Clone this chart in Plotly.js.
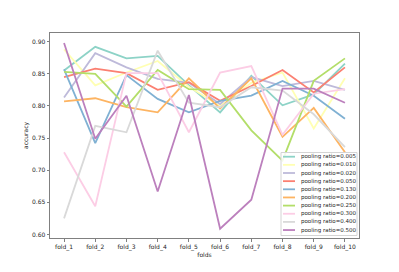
<!DOCTYPE html>
<html>
<head>
<meta charset="utf-8">
<script src="https://cdn.plot.ly/plotly-3.0.1.min.js"></script>
<style>html,body{margin:0;padding:0;background:#fff;}#chart{width:399px;height:272px;}</style>
</head>
<body>
<div id="chart"></div>
<script>
const folds = ["fold_1","fold_2","fold_3","fold_4","fold_5","fold_6","fold_7","fold_8","fold_9","fold_10"];
const seriesNames = ["pooling ratio=0.005","pooling ratio=0.010","pooling ratio=0.020","pooling ratio=0.050","pooling ratio=0.130","pooling ratio=0.200","pooling ratio=0.250","pooling ratio=0.300","pooling ratio=0.400","pooling ratio=0.500"];
const r0005 = [0.855,0.892,0.874,0.878,0.832,0.790,0.847,0.801,0.818,0.866];
const r0010 = [0.888,0.832,0.852,0.870,0.830,0.800,0.836,0.852,0.765,0.843];
const r0020 = [0.813,0.882,0.860,0.842,0.836,0.803,0.845,0.831,0.839,0.825];
const r0050 = [0.845,0.858,0.851,0.825,0.837,0.808,0.831,0.856,0.821,0.860];
const r0130 = [0.857,0.742,0.848,0.811,0.790,0.808,0.816,0.839,0.816,0.780];
const r0200 = [0.807,0.812,0.798,0.790,0.843,0.796,0.843,0.752,0.797,0.728];
const r0250 = [0.853,0.850,0.799,0.856,0.826,0.825,0.762,0.715,0.839,0.874];
const r0300 = [0.728,0.644,0.851,0.851,0.759,0.852,0.862,0.755,0.819,0.826];
const r0400 = [0.625,0.769,0.759,0.886,0.805,0.798,0.829,0.824,0.787,0.736];
const r0500 = [0.898,0.749,0.816,0.667,0.817,0.609,0.654,0.827,0.827,0.805];
const seriesValues = [r0005,r0010,r0020,r0050,r0130,r0200,r0250,r0300,r0400,r0500];
const colors = ["#8dd3c7","#ffffb3","#bebada","#fb8072","#80b1d3","#fdb462","#b3de69","#fccde5","#d9d9d9","#bc80bd"];

const traces = seriesValues.map((vals, i) => ({
  x: folds, y: vals, type: "scatter", mode: "lines",
  name: seriesNames[i], showlegend: false,
  line: {color: colors[i], width: 1.8}
}));

// plot area in pixels: left 50, right 359, top 33, bottom 238
const PL = 50, PR = 359, PT = 33, PB = 238;
const px = v => (v - PL) / (PR - PL);
const py = v => (PB - v) / (PB - PT);

const shapes = [{
  type: "rect", xref: "paper", yref: "paper", layer: "above",
  x0: px(281), x1: px(357), y0: py(235.5), y1: py(152.5),
  fillcolor: "rgba(255,255,255,0.85)", line: {color: "#d4d4d4", width: 1}
}];
const annotations = [];
seriesNames.forEach((nm, i) => {
  const yc = 156.7 + i * 8.15;
  shapes.push({
    type: "line", xref: "paper", yref: "paper", layer: "above",
    x0: px(283), x1: px(295), y0: py(yc), y1: py(yc),
    line: {color: colors[i], width: 1.8}
  });
  annotations.push({
    xref: "paper", yref: "paper", x: px(298.5), y: py(yc),
    xanchor: "left", yanchor: "middle", showarrow: false,
    text: nm, font: {family: "DejaVu Sans", size: 5.5, color: "#262626"}
  });
});

const layout = {
  width: 399, height: 272,
  margin: {l: 50, r: 40, t: 33, b: 34},
  paper_bgcolor: "#fff", plot_bgcolor: "#fff",
  font: {family: "DejaVu Sans", size: 6, color: "#262626"},
  showlegend: false,
  shapes: shapes, annotations: annotations,
  xaxis: {
    type: "category", range: [-0.45, 9.45],
    showline: true, mirror: true, linecolor: "#808080", linewidth: 1,
    showgrid: false, zeroline: false,
    ticks: "outside", ticklen: 2.5, tickcolor: "#808080",
    tickfont: {family: "DejaVu Sans", size: 6, color: "#262626"},
    title: {text: "folds", font: {family: "DejaVu Sans", size: 6, color: "#262626"}, standoff: 3}
  },
  yaxis: {
    range: [0.5945, 0.9135], dtick: 0.05, tick0: 0.6, tickformat: ".2f",
    showline: true, mirror: true, linecolor: "#808080", linewidth: 1,
    showgrid: false, zeroline: false,
    ticks: "outside", ticklen: 2.5, tickcolor: "#808080",
    tickfont: {family: "DejaVu Sans", size: 6, color: "#262626"},
    title: {text: "accuracy", font: {family: "DejaVu Sans", size: 6, color: "#262626"}, standoff: 2}
  }
};
Plotly.newPlot("chart", traces, layout, {displayModeBar: false, staticPlot: true});
</script>
</body>
</html>
